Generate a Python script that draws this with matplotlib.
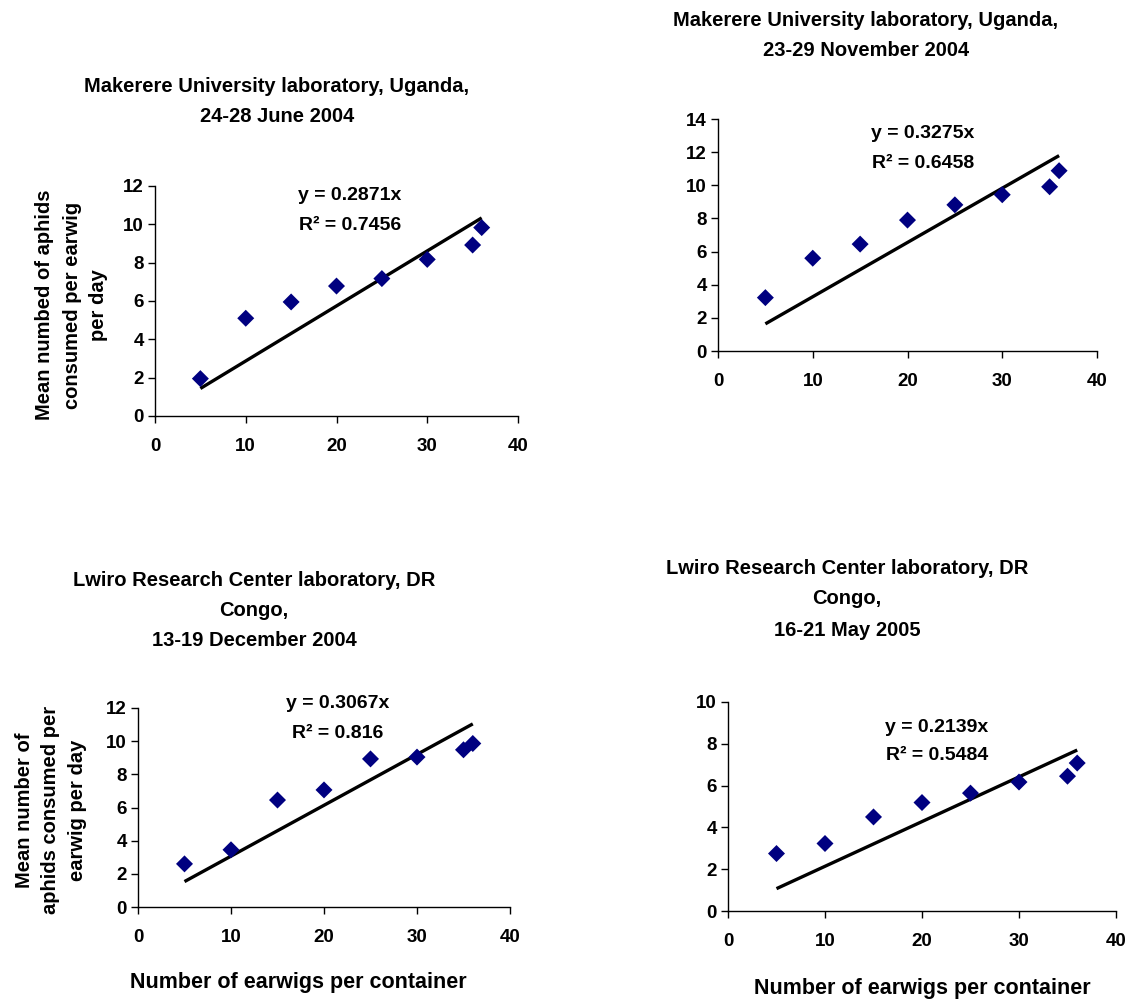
import matplotlib
matplotlib.use("Agg")
import matplotlib.pyplot as plt

plt.rcParams['font.family'] = ['Liberation Sans', 'DejaVu Sans']
plt.rcParams['font.weight'] = 'bold'

W, H = 1136, 999

earwigs = [5, 10, 15, 20, 25, 30, 35, 36]

consumed_jun2004 = [1.95, 5.1, 5.95, 6.78, 7.17, 8.17, 8.92, 9.83]
consumed_nov2004 = [3.22, 5.6, 6.45, 7.9, 8.82, 9.43, 9.91, 10.88]
consumed_dec2004 = [2.6, 3.45, 6.45, 7.06, 8.93, 9.04, 9.48, 9.86]
consumed_may2005 = [2.75, 3.23, 4.5, 5.19, 5.64, 6.17, 6.45, 7.08]

slopes = [0.2871, 0.3275, 0.3067, 0.2139]
r2_labels = ["0.7456", "0.6458", "0.816", "0.5484"]

titles = [
    ["Makerere University laboratory, Uganda,", "24-28 June 2004"],
    ["Makerere University laboratory, Uganda,", "23-29 November 2004"],
    ["Lwiro Research Center laboratory, DR", "Congo,", "13-19 December 2004"],
    ["Lwiro Research Center laboratory, DR", "Congo,", "16-21 May 2005"],
]
ymaxes = [12, 14, 12, 10]
xticks = [0, 10, 20, 30, 40]

series = [consumed_jun2004, consumed_nov2004, consumed_dec2004, consumed_may2005]

ylabel_top = ["Mean numbed of aphids", "consumed per earwig", "per day"]
ylabel_bottom = ["Mean number of", "aphids consumed per", "earwig per day"]
xlabel = "Number of earwigs per container"

# pixel layout: (x_left, x_right, y_bottom, y_top)
rects = [(155, 518, 416, 186), (718, 1097, 351, 119),
         (138, 510, 907, 708), (728, 1116, 911, 702)]
title_x = [277, 866, 254, 847]
title_y = [[84, 114], [18, 48], [578, 608, 638], [567, 597, 628]]
eq_x = [350, 923, 338, 937]
eq_y = [[193, 223], [132, 162], [702, 731], [725, 754]]

fig = plt.figure(figsize=(W / 100, H / 100), dpi=100)

def fx(x):
    return x / W

def fy(y):
    return 1 - y / H

for i in range(4):
    x0, x1, yb, yt = rects[i]
    ax = fig.add_axes([fx(x0), fy(yb), (x1 - x0) / W, (yb - yt) / H])
    ys = series[i]
    ax.scatter(earwigs, ys, marker='D', s=75, color='#000080', zorder=3,
               edgecolors='none')
    xs_fit = [min(earwigs), max(earwigs)]
    ax.plot(xs_fit, [slopes[i] * v for v in xs_fit], color='black', lw=2.4,
            solid_capstyle='butt', zorder=2)
    ax.set_xlim(0, 40)
    ax.set_ylim(0, ymaxes[i])
    ax.set_xticks(xticks)
    ax.set_yticks(range(0, ymaxes[i] + 1, 2))
    for s in ['top', 'right']:
        ax.spines[s].set_visible(False)
    for s in ['left', 'bottom']:
        ax.spines[s].set_linewidth(1.0)
    ax.tick_params(axis='both', direction='out', length=5, width=1,
                   labelsize=13.5, pad=3)
    ax.tick_params(axis='x', pad=11)
    for lab in ax.get_xticklabels() + ax.get_yticklabels():
        lab.set_fontweight('bold')
    for line, ty in zip(titles[i], title_y[i]):
        fig.text(fx(title_x[i]), fy(ty), line, ha='center',
                 va='center_baseline', fontsize=14.5, fontweight='bold')
    eq_lines = [f"y = {slopes[i]:.4f}x", f"R² = {r2_labels[i]}"]
    for line, ey in zip(eq_lines, eq_y[i]):
        fig.text(fx(eq_x[i]), fy(ey), line, ha='center',
                 va='center_baseline', fontsize=14, fontweight='bold')

for line, lx in zip(ylabel_top, [45, 72, 98]):
    fig.text(fx(lx), fy(305), line, rotation=90, ha='center', va='center',
             fontsize=14.5, fontweight='bold')
for line, lx in zip(ylabel_bottom, [25, 51, 77]):
    fig.text(fx(lx), fy(810), line, rotation=90, ha='center', va='center',
             fontsize=14.5, fontweight='bold')
fig.text(fx(298), fy(980), xlabel, ha='center', va='center_baseline',
         fontsize=15.5, fontweight='bold')
fig.text(fx(922), fy(986), xlabel, ha='center', va='center_baseline',
         fontsize=15.5, fontweight='bold')

fig.savefig("out.png", dpi=100, facecolor='white')
